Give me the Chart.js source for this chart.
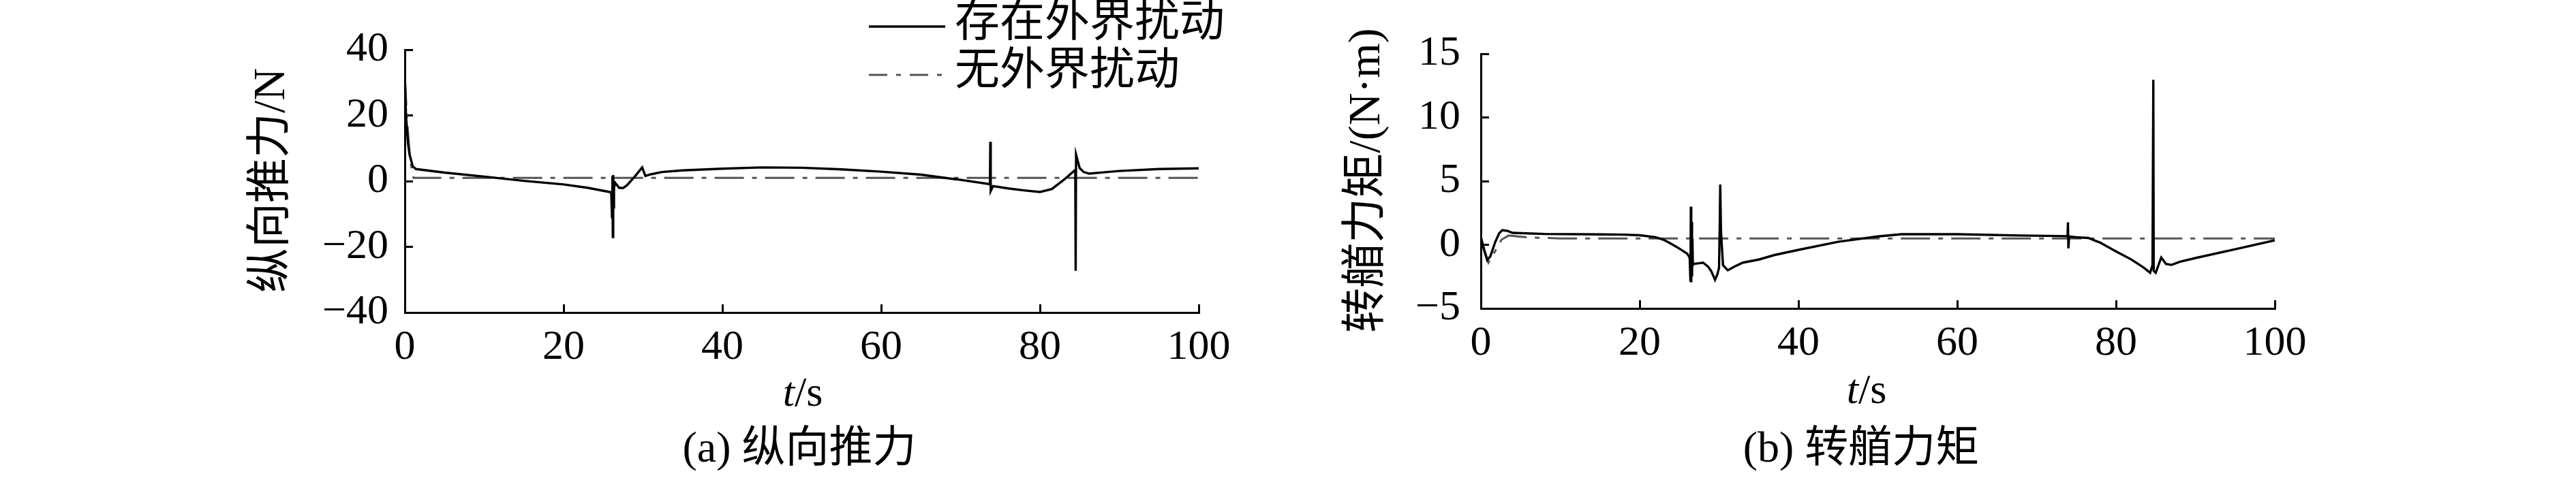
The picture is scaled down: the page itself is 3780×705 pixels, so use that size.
<!DOCTYPE html>
<html lang="zh">
<head>
<meta charset="UTF-8">
<title>纵向推力与转艏力矩</title>
<style>
  body { margin: 0; background: #fff; }
  #wrap { position: relative; width: 3780px; height: 705px; background: #fff; }
  canvas { position: absolute; top: 0; }
</style>
</head>
<body>
<div id="wrap">
  <canvas id="chartA" width="1890" height="705" style="left:0"></canvas>
  <canvas id="chartB" width="1890" height="705" style="left:1890px"></canvas>
</div>

<script src="https://cdn.jsdelivr.net/npm/chart.js"></script>
<script>
// ---- data ----
// (a) longitudinal thrust, with disturbance
const thrustTime = [0, 0.15, 0.4, 0.6, 1.0, 1.4, 5, 10, 15, 20, 23, 25.8, 26.0, 26.1, 26.15, 26.2, 26.25, 26.3, 26.35, 26.5,
  27.0, 27.5, 28.0, 29.0, 29.9, 30.3, 31, 32.4, 35, 40, 45, 50, 55, 60, 65, 69, 70, 73.7, 73.75, 73.8, 74.1,
  76, 78, 80, 81.5, 83, 84.3, 84.45, 84.5, 84.55, 85.0, 85.5, 86.2, 88, 90, 95, 100];
const thrustDisturbed = [33, 20, 11.6, 8.1, 4.5, 3.7, 2.6, 1.4, 0.1, -1.0, -2.0, -3.3, -3.4, -11, 1.5, -17, 1.9, -8, -2, -0.5,
  -2.0, -2.1, -1.2, 1.5, 4.2, 1.6, 2.1, 2.8, 3.3, 3.8, 4.2, 4.1, 3.6, 2.9, 2.0, 0.7, 0.4, -0.9, 12.0, -3.0, -1.5,
  -2.2, -2.8, -3.3, -2.4, 0.4, 3.1, 3.4, -27.3, 8.1, 4.0, 2.8, 2.3, 2.7, 3.1, 3.7, 3.9];
// (a) without disturbance
const thrustNomTime = [0, 0.3, 0.7, 1.1, 100];
const thrustNominal = [32, 18, 6, 1.0, 1.0];

// (b) yaw moment, with disturbance
const momentTime = [0, 0.4, 0.8, 1.2, 1.8, 2.3, 2.7, 3.3, 4.0, 8, 15, 18, 20, 22, 23, 24, 25, 26, 26.3,
  26.4, 26.45, 26.5, 26.55, 26.6, 26.65, 26.7, 26.8, 27.5, 28.0, 28.6, 29.0, 29.5, 29.8, 30.0, 30.1, 30.15, 30.25, 30.5,
  31.1, 32, 33, 35, 37, 40, 45, 50, 53, 60, 68, 73.9, 73.95, 74.0, 74.1, 75, 76.5, 78, 80, 82, 83.5, 84.3, 84.6,
  84.7, 84.75, 85.0, 85.7, 86.3, 87, 88, 90, 95, 100];
const momentDisturbed = [0.6, -0.4, -1.2, -0.9, 0.2, 0.9, 1.15, 1.1, 0.94, 0.85, 0.82, 0.8, 0.75, 0.6, 0.4, 0.07, -0.3, -0.7, -1.0,
  -2.9, 3.0, -2.95, 1.8, -2.5, 0.5, -1.6, -1.5, -1.45, -1.4, -1.7, -2.05, -2.75, -2.3, -1.8, 2.0, 4.74, 1.0, -1.6,
  -2.0, -1.7, -1.4, -1.16, -0.8, -0.4, 0.24, 0.66, 0.83, 0.83, 0.73, 0.68, 1.77, -0.28, 0.65, 0.59, 0.54, 0.17, -0.52, -1.18, -1.8, -2.2, -1.6,
  12.97, -2.05, -2.2, -1.0, -1.5, -1.58, -1.34, -1.04, -0.35, 0.35];
// (b) without disturbance
const momentNomTime = [0, 0.5, 0.95, 1.8, 2.6, 3.5, 6, 10, 100];
const momentNominal = [0.63, -0.5, -1.4, -0.5, 0.4, 0.73, 0.58, 0.5, 0.5];

const xTicks = [0, 20, 40, 60, 80, 100];
const thrustTicks = [-40, -20, 0, 20, 40];
const momentTicks = [-5, 0, 5, 10, 15];

const seriesNames = ['存在外界扰动', '无外界扰动'];

// ---- styles ----
const FONT = "'Liberation Serif', 'Noto Sans CJK SC', serif";
const solidStyle = { borderColor: '#000', borderWidth: 3.4 };
const dashStyle = { borderColor: '#555', borderWidth: 3, borderDash: [43, 12, 7, 12] };

function pts(xs, ys) {
  return xs.map((x, i) => ({ x: x, y: ys[i] }));
}

// draws titles, captions and (optionally) the legend
const textPlugin = {
  id: 'texts',
  afterDraw(chart, args, o) {
    const ctx = chart.ctx;
    ctx.save();
    ctx.fillStyle = '#000';
    ctx.textBaseline = 'middle';

    // y title, rotated
    ctx.save();
    ctx.font = '66px ' + FONT;
    ctx.translate(o.yTitleX, o.yTitleY);
    ctx.rotate(-Math.PI / 2);
    ctx.textAlign = 'center';
    ctx.fillText(o.yTitle, 0, 0);
    ctx.restore();

    // x title  t/s  (t italic)
    ctx.textAlign = 'left';
    ctx.font = 'italic 62px ' + FONT;
    const wt = ctx.measureText('t').width;
    ctx.font = '62px ' + FONT;
    const ws = ctx.measureText('/s').width;
    let x0 = o.xTitleX - (wt + ws) / 2;
    ctx.font = 'italic 62px ' + FONT;
    ctx.fillText('t', x0, o.xTitleY);
    ctx.font = '62px ' + FONT;
    ctx.fillText('/s', x0 + wt, o.xTitleY);

    // caption
    ctx.textAlign = 'center';
    ctx.font = '64px ' + FONT;
    ctx.fillText(o.caption, o.captionX, o.captionY);

    // legend
    if (o.legend) {
      const L = o.legend;
      chart.data.datasets.forEach((ds, i) => {
        const y = L.y + i * L.rowGap;
        ctx.save();
        ctx.strokeStyle = ds.borderColor;
        ctx.lineWidth = ds.borderWidth;
        ctx.setLineDash(i === 0 ? [] : [27, 13, 7, 13]);
        ctx.beginPath();
        ctx.moveTo(L.x, y + 3);
        ctx.lineTo(L.x + L.len, y + 3);
        ctx.stroke();
        ctx.restore();
        ctx.textAlign = 'left';
        ctx.font = '66px ' + FONT;
        ctx.fillText(ds.label, L.x + L.len + 14, y);
      });
    }
    ctx.restore();
  }
};

function makeChart(id, cfg) {
  const tickFont = { family: FONT, size: 62 };
  return new Chart(document.getElementById(id), {
    type: 'line',
    data: {
      datasets: [
        Object.assign({ label: seriesNames[0], data: pts(cfg.t1, cfg.y1) }, solidStyle),
        Object.assign({ label: seriesNames[1], data: pts(cfg.t2, cfg.y2) }, dashStyle)
      ]
    },
    options: {
      responsive: false,
      animation: false,
      devicePixelRatio: 1,
      elements: { point: { radius: 0 }, line: { tension: 0, borderCapStyle: 'butt' } },
      layout: { padding: cfg.padding },
      plugins: {
        legend: { display: false },
        tooltip: { enabled: false },
        texts: cfg.texts
      },
      scales: {
        x: {
          type: 'linear',
          min: xTicks[0], max: xTicks[xTicks.length - 1],
          afterBuildTicks: s => { s.ticks = xTicks.map(v => ({ value: v })); },
          afterFit: s => { s.height = cfg.xHeight; },
          grid: { drawOnChartArea: false, tickLength: -12, tickWidth: 3, tickColor: '#000' },
          border: { display: true, color: '#000', width: 3 },
          ticks: { font: tickFont, color: '#000', padding: 27, maxRotation: 0, autoSkip: false }
        },
        y: {
          type: 'linear',
          min: cfg.yTicks[0], max: cfg.yTicks[cfg.yTicks.length - 1],
          afterBuildTicks: s => { s.ticks = cfg.yTicks.map(v => ({ value: v })); },
          afterFit: s => { s.width = cfg.yWidth; },
          grid: { drawOnChartArea: false, tickLength: -12, tickWidth: 3, tickColor: '#000' },
          border: { display: true, color: '#000', width: 3 },
          ticks: {
            font: tickFont, color: '#000', padding: 12 + cfg.yLabelGap, autoSkip: false,
            callback: v => String(v).replace('-', '\u2212')
          }
        }
      }
    },
    plugins: [textPlugin]
  });
}

// (a) 纵向推力
makeChart('chartA', {
  t1: thrustTime, y1: thrustDisturbed, t2: thrustNomTime, y2: thrustNominal,
  yTicks: thrustTicks,
  padding: { left: 0, right: 131, top: 73, bottom: 0 },
  yWidth: 594, xHeight: 246, yLabelGap: 24,
  texts: {
    yTitle: '纵向推力/N', yTitleX: 400, yTitleY: 265,
    xTitleX: 1178, xTitleY: 580,
    caption: '(a) 纵向推力', captionX: 1173, captionY: 661,
    legend: { x: 1275, y: 36, rowGap: 71, len: 112 }
  }
});

// (b) 转艏力矩
makeChart('chartB', {
  t1: momentTime, y1: momentDisturbed, t2: momentNomTime, y2: momentNominal,
  yTicks: momentTicks,
  padding: { left: 0, right: 442, top: 71, bottom: 0 },
  yWidth: 283, xHeight: 252, yLabelGap: 30,
  texts: {
    yTitle: '转艏力矩/(N·m)', yTitleX: 117, yTitleY: 265,
    xTitleX: 849, xTitleY: 576,
    caption: '(b) 转艏力矩', captionX: 841, captionY: 661
  }
});
</script>
</body>
</html>
